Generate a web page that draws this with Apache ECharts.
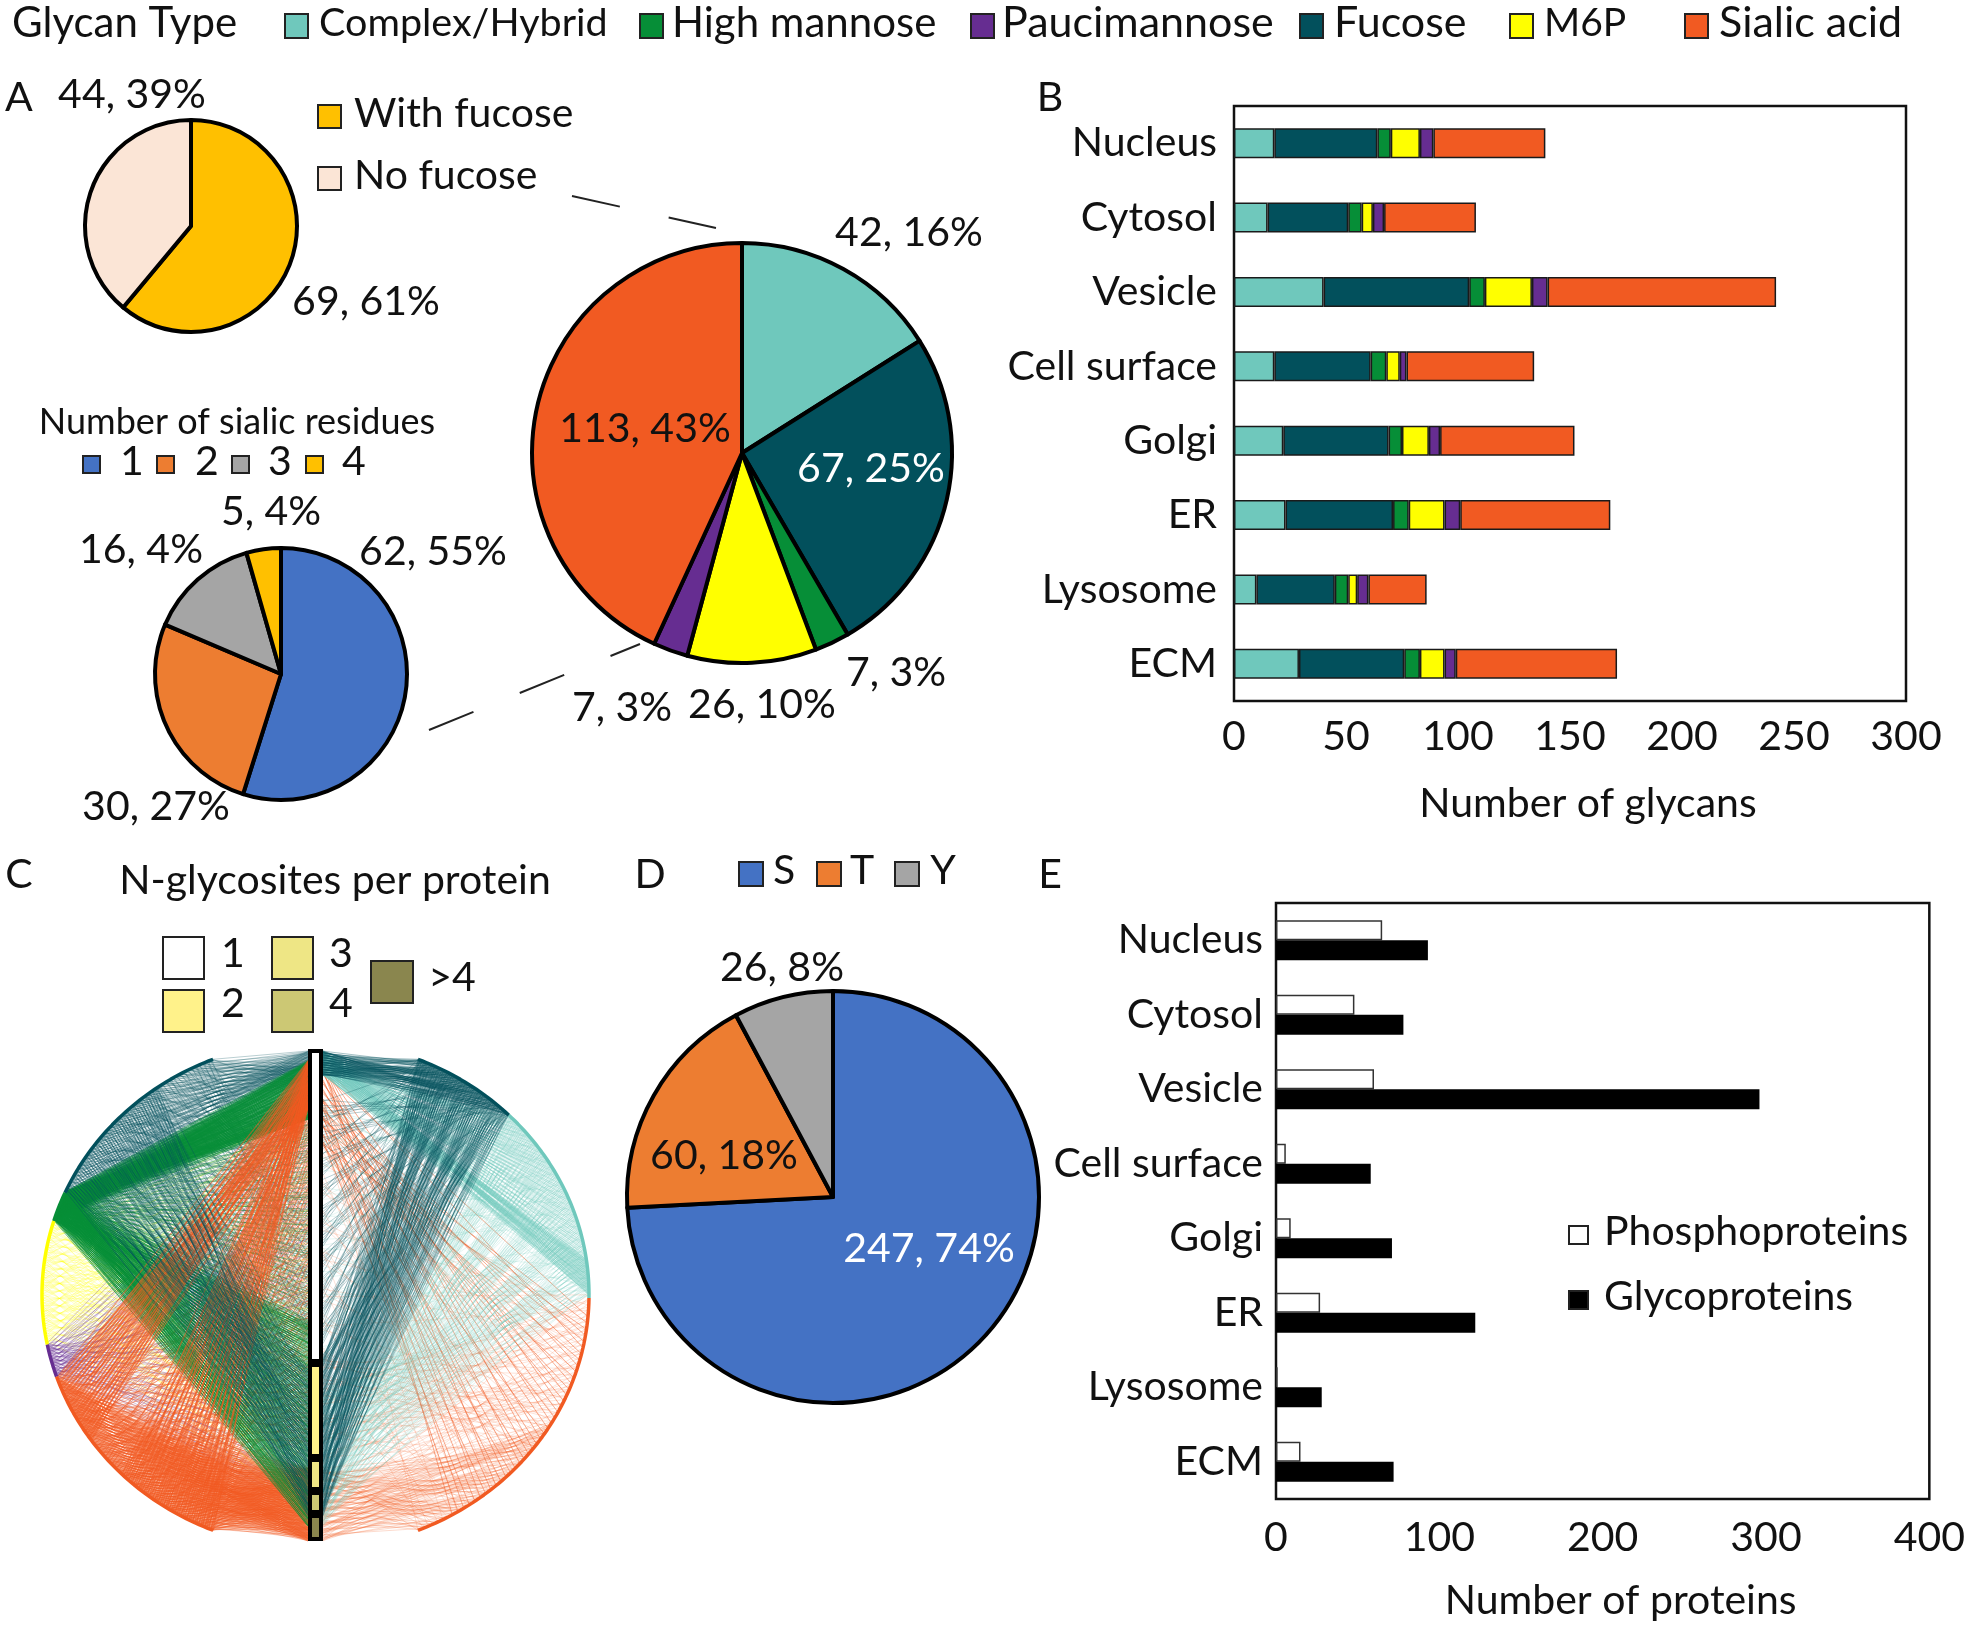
<!DOCTYPE html>
<html lang="en">
<head>
<meta charset="UTF-8">
<title>Glycan types, sialic residues, N-glycosites and phosphoproteins</title>
<script src="https://cdn.jsdelivr.net/npm/echarts@6/dist/echarts.min.js"></script>
<style>
    body { margin: 0; padding: 0; background: #fff; }
    #chart { width: 1968px; height: 1628px; }
</style>
</head>
<body>
<div id="chart"></div>
<script>
// panel A pies
var fucoseNames = ['With fucose', 'No fucose'];
var fucoseValues = [69, 44];
var glycanPieNames = ['Complex/Hybrid', 'Fucose', 'High mannose', 'M6P', 'Paucimannose', 'Sialic acid'];
var glycanPieValues = [42, 67, 7, 26, 7, 113];
var sialicNames = ['1', '2', '3', '4'];
var sialicValues = [62, 30, 16, 5];

// panel B and E categories
var compartments = ['Nucleus', 'Cytosol', 'Vesicle', 'Cell surface', 'Golgi', 'ER', 'Lysosome', 'ECM'];

// panel B, number of glycans (stack order left to right)
var complexCounts = [18, 15, 40, 18, 22, 23, 10, 29];
var fucoseCounts = [46, 36, 65, 43, 47, 48, 35, 47];
var mannoseCounts = [6, 6, 7, 7, 6, 7, 6, 7];
var m6pCounts = [13, 5, 21, 6, 12, 16, 4, 11];
var pauciCounts = [6, 5, 7, 3, 5, 7, 5, 5];
var sialicCounts = [50, 41, 102, 57, 60, 67, 26, 72];

// panel D
var residueNames = ['S', 'T', 'Y'];
var residueValues = [247, 60, 26];

// panel E, number of proteins
var phosphoCounts = [65, 48, 60, 6, 9, 27, 1, 15];
var glycoCounts = [93, 78, 296, 58, 71, 122, 28, 72];

// panel C, proteins per N-glycosite bin, read as heights of the column
var siteBins = ['1', '2', '3', '4', '>4'];
var siteBinValues = [314, 95, 33, 23, 27];

// panel C arcs: type, start angle, end angle on the ellipse (degrees)
var arcs = [
    ['fucose', 112, 156.3],
    ['mannose', 156.3, 163.1],
    ['m6p', 163.1, 191.3],
    ['pauci', 191.3, 198.8],
    ['sialic', 198.8, 248],
    ['fucose', 45, 68],
    ['complex', -0.7, 45],
    ['sialic', -68, -0.7]
];

// panel C edges. Single edges cannot be read in the picture, so these are estimated
// bundles: type, arc from, arc to, column from, column to (0 top, 1 bottom), lines, opacity, width.
// Lines inside a bundle are only a hatching texture, they are not measured data.
var edgeBundles = [
    // right half
    ['sialic', -68, -30, 0.85, 1.00, 100, 0.28, 0.8],
    ['sialic', -40, 0, 0.62, 1.00, 60, 0.22, 0.8],
    ['sialic', -68, 0, 0.10, 0.80, 60, 0.22, 0.8],
    ['sialic', -60, -5, 0.02, 0.20, 40, 0.50, 1],
    ['complex', 0, 8, 0.00, 0.05, 70, 0.35, 0.9],
    ['complex', 8, 45, 0.00, 0.05, 100, 0.32, 0.9],
    ['complex', 0, 45, 0.70, 0.97, 170, 0.28, 0.8],
    ['complex', 0, 45, 0.10, 0.65, 50, 0.22, 0.8],
    ['fucose', 45, 68, 0.00, 0.05, 90, 0.45, 0.8],
    ['fucose', 45, 68, 0.62, 0.95, 170, 0.42, 0.8],
    ['fucose', 45, 68, 0.10, 0.60, 90, 0.35, 0.8],
    // left half
    ['m6p', 163, 191, 0.05, 0.98, 140, 0.28, 0.8],
    ['fucose', 112, 156, 0.00, 0.06, 110, 0.35, 0.8],
    ['fucose', 112, 156, 0.10, 0.60, 130, 0.35, 0.8],
    ['pauci', 191, 199, 0.05, 0.95, 80, 0.38, 0.8],
    ['sialic', 199, 248, 0.85, 1.00, 380, 0.42, 0.9],
    ['sialic', 199, 248, 0.10, 0.80, 180, 0.45, 0.9],
    ['mannose', 156, 163, 0.02, 0.14, 170, 0.60, 1],
    ['mannose', 156, 163, 0.15, 0.55, 80, 0.40, 0.8],
    ['mannose', 156, 163, 0.55, 0.97, 240, 0.55, 1],
    ['sialic', 199, 215, 0.02, 0.12, 50, 0.60, 1.1],
    ['sialic', 225, 248, 0.02, 0.12, 50, 0.60, 1.1],
    ['fucose', 125, 156, 0.65, 0.95, 130, 0.42, 0.9]
];

var colors = {
    complex: '#6FC8BC',
    fucose: '#02505C',
    mannose: '#068E37',
    m6p: '#FFFF00',
    pauci: '#662D91',
    sialic: '#F15A22'
};
var binColors = ['#FFFFFF', '#FFF28A', '#EEE685', '#CCC874', '#8A864E'];
var FONT = 'Lato, "Noto Sans", sans-serif';
var FS = 41;

var chart = echarts.init(document.getElementById('chart'), null, { renderer: 'canvas' });

// ---- helpers for text and swatches
function txt(x, y, text, o) {
    o = o || {};
    return {
        type: 'text', z: 100,
        style: {
            x: x, y: y, text: text,
            fill: o.fill || '#111',
            font: (o.size || FS) + 'px ' + FONT,
            align: o.align || 'center', verticalAlign: 'middle',
            textAlign: o.align || 'center', textVerticalAlign: 'middle'
        }
    };
}
function swatch(x, y, w, h, fill, lw) {
    return {
        type: 'rect', z: 100,
        shape: { x: x, y: y, width: w, height: h },
        style: { fill: fill, stroke: '#222', lineWidth: lw || 2 }
    };
}
function dash(x1, y1, x2, y2, pattern) {
    return {
        type: 'line', z: 100,
        shape: { x1: x1, y1: y1, x2: x2, y2: y2 },
        style: { stroke: '#222', lineWidth: 2, lineDash: pattern }
    };
}

function pie(center, r, names, values, palette) {
    return {
        type: 'pie', center: center, radius: [0, r], startAngle: 90, clockwise: true,
        label: { show: false }, labelLine: { show: false }, silent: true,
        itemStyle: { borderColor: '#000', borderWidth: 4 },
        data: values.map(function (v, i) {
            return { name: names[i], value: v, itemStyle: { color: palette[i] } };
        })
    };
}

function stackBar(name, values, color) {
    return {
        type: 'bar', name: name, stack: 'glycans', xAxisIndex: 0, yAxisIndex: 0, barWidth: 30,
        itemStyle: { color: color, borderColor: '#1a1a1a', borderWidth: 1.5 },
        data: values
    };
}

// ---- network, panel C: unit ellipse mapped on its own hidden grid
var NET = { cx: 315.5, cy: 1294.8, a: 273.5, b: 254 };
var colTop = 1051, colH = 490, colX = 7.5 / NET.a;
function arcPoint(deg) {
    var t = deg * Math.PI / 180;
    return [Math.cos(t), Math.sin(t)];
}
function columnY(f) {
    return (NET.cy - (colTop + colH * f)) / NET.b;
}
var edgeData = [];
edgeBundles.forEach(function (b) {
    var n = b[5];
    for (var i = 0; i < n; i++) {
        var p = arcPoint(b[1] + (b[2] - b[1]) * i / (n - 1));
        var k = (i * 0.618034 + ((i * 0.414214) % 1) * 0.25) % 1;
        edgeData.push({
            coords: [p, [b[1] > 90 ? -colX : colX, columnY(b[3] + (b[4] - b[3]) * k)]],
            lineStyle: { color: colors[b[0]], opacity: b[6], width: b[7] }
        });
    }
});
var arcSeries = arcs.map(function (a) {
    var pts = [];
    for (var d = a[1]; d < a[2]; d += 1) pts.push(arcPoint(d));
    pts.push(arcPoint(a[2]));
    return {
        type: 'line', xAxisIndex: 2, yAxisIndex: 2, data: pts, showSymbol: false, z: 4, silent: true,
        lineStyle: { color: colors[a[0]], width: 3.5 }
    };
});
var binSeries = siteBinValues.map(function (v, i) {
    return {
        type: 'bar', name: siteBins[i], stack: 'bins', xAxisIndex: 3, yAxisIndex: 3, barWidth: 15, z: 6,
        itemStyle: { color: binColors[i], borderColor: '#000', borderWidth: 4 },
        data: [v]
    };
});

// ---- axes shared styles
function valueAxis(gridIndex, max, interval, name, gap, margin) {
    return {
        type: 'value', gridIndex: gridIndex, min: 0, max: max, interval: interval,
        name: name, nameLocation: 'middle', nameGap: gap,
        nameTextStyle: { fontFamily: FONT, fontSize: FS, color: '#111', padding: [0, 0, 0, 36] },
        axisLine: { show: false }, axisTick: { show: false }, splitLine: { show: false },
        axisLabel: { fontFamily: FONT, fontSize: FS, color: '#111', margin: margin, hideOverlap: false }
    };
}
function categoryAxis(gridIndex, margin) {
    return {
        type: 'category', gridIndex: gridIndex, data: compartments, inverse: true,
        axisLine: { show: false }, axisTick: { show: false }, splitLine: { show: false },
        axisLabel: { fontFamily: FONT, fontSize: FS, color: '#111', margin: margin, interval: 0, padding: [0, 0, 8, 0] }
    };
}
function hiddenAxis(type, gridIndex, min, max, extra) {
    return Object.assign({
        type: type, gridIndex: gridIndex, min: min, max: max, show: false
    }, extra || {});
}

// ---- text, legends and connectors
var graphics = [
    txt(12, 23, 'Glycan Type', { align: 'left', size: 42 }),
    swatch(285, 14, 23, 24, colors.complex), txt(319, 23, 'Complex/Hybrid', { align: 'left', size: 39.5 }),
    swatch(640, 14, 23, 24, colors.mannose), txt(672, 23, 'High mannose', { align: 'left', size: 42 }),
    swatch(971, 14, 23, 24, colors.pauci), txt(1002, 23, 'Paucimannose', { align: 'left', size: 43 }),
    swatch(1300, 14, 23, 24, colors.fucose), txt(1334, 23, 'Fucose', { align: 'left', size: 43 }),
    swatch(1510, 14, 23, 24, colors.m6p), txt(1544, 23, 'M6P', { align: 'left', size: 39 }),
    swatch(1685, 14, 23, 24, colors.sialic), txt(1719, 23, 'Sialic acid', { align: 'left', size: 43 }),

    txt(19, 98, 'A'), txt(1050, 98, 'B'), txt(19, 875, 'C'), txt(650, 875, 'D'), txt(1050, 875, 'E'),

    txt(132, 95, '44, 39%'), txt(366, 302, '69, 61%'),
    swatch(318, 105, 23, 23, '#FFC000'), txt(354, 114, fucoseNames[0], { align: 'left' }),
    swatch(318, 167, 23, 23, '#FBE5D6'), txt(354, 176, fucoseNames[1], { align: 'left' }),

    txt(237, 422, 'Number of sialic residues', { size: 36 }),
    swatch(83, 456, 17, 17, '#4472C4'), txt(132, 462, sialicNames[0]),
    swatch(157, 456, 17, 17, '#ED7D31'), txt(207, 462, sialicNames[1]),
    swatch(232, 456, 17, 17, '#A5A5A5'), txt(280, 462, sialicNames[2]),
    swatch(306, 456, 17, 17, '#FFC000'), txt(354, 462, sialicNames[3]),
    txt(141, 550, '16, 4%'), txt(271, 512, '5, 4%'), txt(433, 552, '62, 55%'), txt(156, 807, '30, 27%'),

    txt(909, 233, '42, 16%'), txt(871, 469, '67, 25%', { fill: '#fff' }), txt(896, 673, '7, 3%'),
    txt(762, 705, '26, 10%'), txt(622, 708, '7, 3%'), txt(645, 429, '113, 43%'),
    dash(572, 196, 716, 228, [49, 50]),
    dash(429, 730, 640, 644, [48, 50]),

    txt(335, 881, 'N-glycosites per protein'),
    swatch(163, 937, 41, 42, binColors[0]), txt(233, 954, siteBins[0]),
    swatch(163, 990, 41, 42, binColors[1]), txt(233, 1004, siteBins[1]),
    swatch(272, 937, 41, 42, binColors[2]), txt(341, 954, siteBins[2]),
    swatch(272, 990, 41, 42, binColors[3]), txt(341, 1004, siteBins[3]),
    swatch(371, 961, 42, 42, binColors[4]), txt(452, 978, siteBins[4]),

    swatch(739, 862, 24, 24, '#4472C4'), txt(784, 871, residueNames[0]),
    swatch(817, 862, 24, 24, '#ED7D31'), txt(862, 871, residueNames[1]),
    swatch(895, 862, 24, 24, '#A5A5A5'), txt(943, 871, residueNames[2]),
    txt(782, 968, '26, 8%'), txt(724, 1156, '60, 18%'), txt(929, 1249, '247, 74%', { fill: '#fff' }),

    swatch(1569, 1226, 19, 18, '#FFFFFF'), txt(1604, 1232, 'Phosphoproteins', { align: 'left' }),
    swatch(1569, 1291, 19, 18, '#000000'), txt(1604, 1297, 'Glycoproteins', { align: 'left' })
];

var option = {
    animation: false,
    backgroundColor: '#fff',
    grid: [
        { left: 1234, top: 106, width: 672, height: 595, show: true, borderColor: '#111', borderWidth: 2.5, containLabel: false },
        { left: 1276, top: 903, width: 656, height: 596, show: true, borderColor: '#111', borderWidth: 2.5, containLabel: false },
        { left: NET.cx - NET.a, top: NET.cy - NET.b, width: 2 * NET.a, height: 2 * NET.b, show: false },
        { left: 300, top: 1049, width: 31, height: 492, show: false }
    ],
    xAxis: [
        valueAxis(0, 300, 50, 'Number of glycans', 82, 15),
        valueAxis(1, 400, 100, 'Number of proteins', 81, 18),
        hiddenAxis('value', 2, -1, 1),
        { type: 'category', gridIndex: 3, data: ['sites'], show: false }
    ],
    yAxis: [
        categoryAxis(0, 17),
        categoryAxis(1, 13),
        hiddenAxis('value', 2, -1, 1),
        hiddenAxis('value', 3, 0, 492, { inverse: true })
    ],
    series: [
        pie([191, 226], 106, fucoseNames, fucoseValues, ['#FFC000', '#FBE5D6']),
        pie([281, 674], 126, sialicNames, sialicValues, ['#4472C4', '#ED7D31', '#A5A5A5', '#FFC000']),
        pie([742, 453], 210, glycanPieNames, glycanPieValues,
            [colors.complex, colors.fucose, colors.mannose, colors.m6p, colors.pauci, colors.sialic]),
        pie([833, 1197], 206, residueNames, residueValues, ['#4472C4', '#ED7D31', '#A5A5A5']),

        stackBar('Complex/Hybrid', complexCounts, colors.complex),
        stackBar('Fucose', fucoseCounts, colors.fucose),
        stackBar('High mannose', mannoseCounts, colors.mannose),
        stackBar('M6P', m6pCounts, colors.m6p),
        stackBar('Paucimannose', pauciCounts, colors.pauci),
        stackBar('Sialic acid', sialicCounts, colors.sialic),

        {
            type: 'bar', name: 'Phosphoproteins', xAxisIndex: 1, yAxisIndex: 1, barWidth: 20, barGap: 0,
            itemStyle: { color: '#fff', borderColor: '#333', borderWidth: 1.5 }, data: phosphoCounts
        },
        {
            type: 'bar', name: 'Glycoproteins', xAxisIndex: 1, yAxisIndex: 1, barWidth: 20, barGap: 0,
            itemStyle: { color: '#000' }, data: glycoCounts
        },

        {
            type: 'lines', coordinateSystem: 'cartesian2d', xAxisIndex: 2, yAxisIndex: 2, z: 3, silent: true,
            data: edgeData
        }
    ].concat(arcSeries, binSeries),
    graphic: { elements: graphics }
};
chart.setOption(option);
</script>
</body>
</html>
